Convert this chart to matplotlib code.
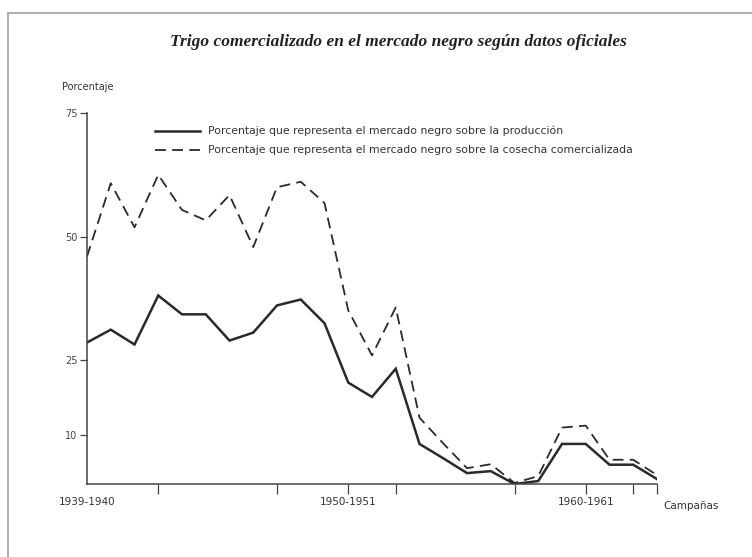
import matplotlib
matplotlib.use("Agg")
import matplotlib.pyplot as plt

years = [1939, 1940, 1941, 1942, 1943, 1944, 1945, 1946, 1947, 1948, 1949, 1950,
         1951, 1952, 1953, 1954, 1955, 1956, 1957, 1958, 1959, 1960, 1961, 1962, 1963]
produccion = [28.6, 31.2, 28.2, 38.1, 34.3, 34.3, 29.0, 30.6, 36.1, 37.3, 32.5, 20.5,
              17.6, 23.3, 8.1, 5.2, 2.2, 2.6, 0.0, 0.6, 8.1, 8.1, 3.9, 3.9, 1.0]
cosecha = [46.0, 60.8, 51.9, 62.5, 55.4, 53.3, 58.4, 47.9, 60.0, 61.1, 56.8, 35.1,
           26.0, 35.7, 13.4, 8.2, 3.2, 4.0, 0.2, 1.6, 11.4, 11.8, 4.9, 4.9, 1.8]
y_ticks = [10, 25, 50, 75]
x_tick_years = [1942, 1947, 1950, 1952, 1957, 1960, 1962, 1963]
x_labels = {1939: "1939-1940", 1950: "1950-1951", 1960: "1960-1961"}
serie1 = "Porcentaje que representa el mercado negro sobre la producción"
serie2 = "Porcentaje que representa el mercado negro sobre la cosecha comercializada"
titulo = "Trigo comercializado en el mercado negro según datos oficiales"

W, H = 752, 557
fig = plt.figure(figsize=(W / 100, H / 100), dpi=100)
fig.patch.set_facecolor("white")

# page border (top and left edges only)
fig.lines.append(plt.Line2D([8 / W, 1], [1 - 13 / H] * 2, transform=fig.transFigure,
                            color="#b0b0b0", linewidth=1.5))
fig.lines.append(plt.Line2D([8 / W] * 2, [0, 1 - 13 / H], transform=fig.transFigure,
                            color="#b0b0b0", linewidth=1.5))

left, right = 87 / W, 657 / W
bottom, top = 1 - 484 / H, 1 - 113 / H
ax = fig.add_axes([left, bottom, right - left, top - bottom])
ax.set_xlim(1939, 1963)
ax.set_ylim(0, 75)

col = "#2a2a2a"
ax.plot(years, produccion, color=col, linewidth=1.8, solid_joinstyle="miter")
ax.plot(years, cosecha, color=col, linewidth=1.3, dashes=(6, 3.5))

for s in ["top", "right"]:
    ax.spines[s].set_visible(False)
for s in ["left", "bottom"]:
    ax.spines[s].set_color("#444444")
    ax.spines[s].set_linewidth(1.1)

ax.set_yticks(y_ticks)
ax.set_yticklabels([str(v) for v in y_ticks], fontsize=7, color="#333333")
ax.tick_params(axis="y", direction="out", length=5, width=0.9, colors="#444444", pad=2)
ax.set_xticks(x_tick_years)
ax.set_xticklabels([])
ax.tick_params(axis="x", direction="out", length=7, width=0.9, colors="#444444")

for yr, lab in x_labels.items():
    ax.text(yr, -2.6, lab, ha="center", va="top", fontsize=7.5, color="#333333")

fig.text(62 / W, 1 - 87 / H, "Porcentaje", fontsize=7, color="#333333", va="center", ha="left")
fig.text(663 / W, 1 - 506 / H, "Campañas", fontsize=7.5, color="#333333", va="center", ha="left")

# legend
fig.lines.append(plt.Line2D([155 / W, 200 / W], [1 - 131 / H] * 2, transform=fig.transFigure,
                            color=col, linewidth=1.8))
fig.lines.append(plt.Line2D([155 / W, 200 / W], [1 - 150 / H] * 2, transform=fig.transFigure,
                            color=col, linewidth=1.3, dashes=(6, 3.5)))
fig.text(208 / W, 1 - 131 / H, serie1, fontsize=7.8, color="#333333", va="center", ha="left")
fig.text(208 / W, 1 - 150 / H, serie2, fontsize=7.8, color="#333333", va="center", ha="left")

fig.text(398 / W, 1 - 42 / H, titulo, fontsize=12.5, style="italic", weight="bold",
         family="Liberation Serif", color="#222222", ha="center", va="center")

fig.savefig("out.png", dpi=100)
